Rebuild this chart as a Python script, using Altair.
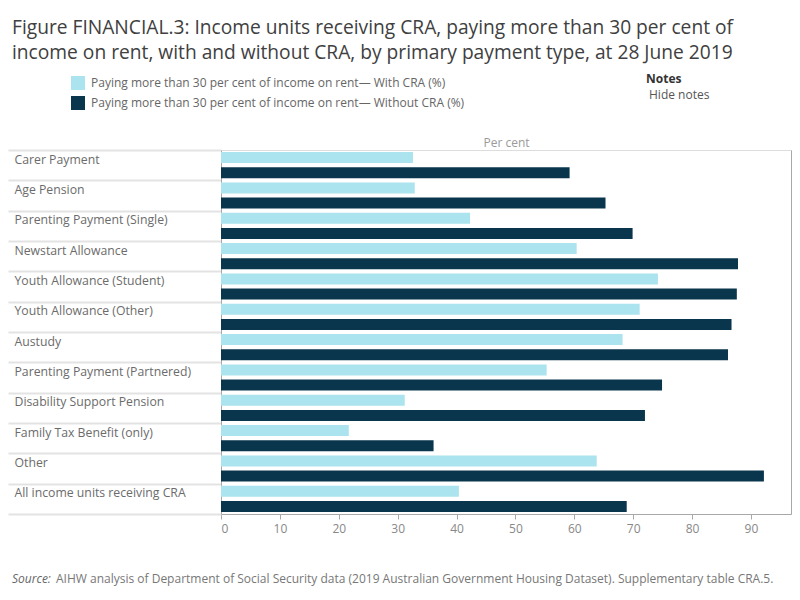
import altair as alt
import pandas as pd

FONT = "Open Sans"

categories = [
    "Carer Payment",
    "Age Pension",
    "Parenting Payment (Single)",
    "Newstart Allowance",
    "Youth Allowance (Student)",
    "Youth Allowance (Other)",
    "Austudy",
    "Parenting Payment (Partnered)",
    "Disability Support Pension",
    "Family Tax Benefit (only)",
    "Other",
    "All income units receiving CRA",
]
with_cra = [32.6, 32.9, 42.3, 60.4, 74.2, 71.1, 68.2, 55.3, 31.2, 21.7, 63.8, 40.4]
without_cra = [59.2, 65.3, 69.9, 87.8, 87.6, 86.7, 86.1, 74.9, 72.0, 36.1, 92.2, 68.9]
series = [
    "Paying more than 30 per cent of income on rent\u2014 With CRA (%)",
    "Paying more than 30 per cent of income on rent\u2014 Without CRA (%)",
]
colors = ["#abe3ee", "#0a364d"]
x_ticks = [0, 10, 20, 30, 40, 50, 60, 70, 80, 90]

title_lines = [
    "Figure FINANCIAL.3: Income units receiving CRA, paying more than 30 per cent of",
    "income on rent, with and without CRA, by primary payment type, at 28 June 2019",
]
source_label = "Source:"
source_text = ("AIHW analysis of Department of Social Security data (2019 Australian "
               "Government Housing Dataset). Supplementary table CRA.5.")

rows = []
for c, a, b in zip(categories, with_cra, without_cra):
    rows.append({"category": c, "series": series[0], "value": a})
    rows.append({"category": c, "series": series[1], "value": b})
df = pd.DataFrame(rows)

base = alt.Chart(df)

bars = base.mark_bar().encode(
    y=alt.Y(
        "category:N",
        sort=categories,
        scale=alt.Scale(paddingInner=0, paddingOuter=0),
        axis=alt.Axis(
            title=None,
            tickBand="extent",
            tickSize=213,
            tickColor="#e3e3e3",
            tickWidth=2,
            domainColor="#a8a8a8",
            domainWidth=1,
            labelAlign="left",
            labelBaseline="alphabetic",
            labelPadding=-6,
            labelOffset=-2,
            labelFont=FONT,
            labelFontSize=12.25,
            labelColor="#6b6b6b",
            labelLimit=300,
        ),
    ),
    yOffset=alt.YOffset(
        "series:N",
        sort=series,
        scale=alt.Scale(paddingInner=0.27, paddingOuter=0.135),
    ),
    x=alt.X(
        "value:Q",
        scale=alt.Scale(domain=[0, 96.8], nice=False, zero=True),
        axis=alt.Axis(
            values=x_ticks,
            grid=False,
            title="Per cent",
            titleY=-368,
            titleBaseline="alphabetic",
            titleFont=FONT,
            titleFontSize=12,
            titleFontWeight="normal",
            titleColor="#9a9a9a",
            domainColor="#a8a8a8",
            tickColor="#a8a8a8",
            tickSize=5,
            labelFont=FONT,
            labelFontSize=12,
            labelColor="#888888",
            labelPadding=4,
        ),
    ),
    color=alt.Color(
        "series:N",
        sort=series,
        scale=alt.Scale(domain=series, range=colors),
        legend=alt.Legend(
            orient="none",
            legendX=-150,
            legendY=-74,
            title=None,
            symbolType="square",
            symbolSize=196,
            symbolStrokeWidth=0,
            symbolOpacity=1,
            labelFont=FONT,
            labelFontSize=12,
            labelColor="#666666",
            labelLimit=600,
            labelOffset=6,
            rowPadding=6,
            padding=0,
        ),
    ),
)

border = base.mark_bar(opacity=0).encode(
    y=alt.Y(
        "category:N",
        sort=categories,
        axis=alt.Axis(
            orient="right",
            labels=False,
            ticks=False,
            grid=False,
            title=None,
            domainColor="#a8a8a8",
        ),
    )
)

notes = alt.Chart(pd.DataFrame({"t": ["Notes"]})).mark_text(
    align="left", baseline="alphabetic", font=FONT, fontSize=12,
    fontWeight="bold", color="#333333"
).encode(text="t:N", x=alt.value(425), y=alt.value(-67))

hide = alt.Chart(pd.DataFrame({"t": ["Hide notes"]})).mark_text(
    align="left", baseline="alphabetic", font=FONT, fontSize=12,
    color="#555555"
).encode(text="t:N", x=alt.value(428), y=alt.value(-51))

src1 = alt.Chart(pd.DataFrame({"t": [source_label]})).mark_text(
    align="left", baseline="alphabetic", font=FONT, fontSize=12,
    fontStyle="italic", color="#666666"
).encode(text="t:N", x=alt.value(-209), y=alt.value(433))

src2 = alt.Chart(pd.DataFrame({"t": [source_text]})).mark_text(
    align="left", baseline="alphabetic", font=FONT, fontSize=12,
    color="#777777"
).encode(text="t:N", x=alt.value(-165), y=alt.value(433))

chart = (
    alt.layer(bars, border, notes, hide, src1, src2)
    .resolve_axis(y="independent")
    .properties(
        width=570,
        height=364,
        autosize=alt.AutoSizeParams(type="none"),
        padding={"left": 221, "top": 150, "right": 9, "bottom": 86},
        title=alt.TitleParams(
            text=title_lines,
            anchor="start",
            frame="group",
            dx=-209,
            offset=10,
            font=FONT,
            fontSize=19.2,
            fontWeight=500,
            color="#404040",
            lineHeight=24.5,
        ),
    )
    .configure_view(stroke=None)
    .configure(background="white")
)

chart.save("out.html", embed_options={"renderer": "svg", "actions": False})
